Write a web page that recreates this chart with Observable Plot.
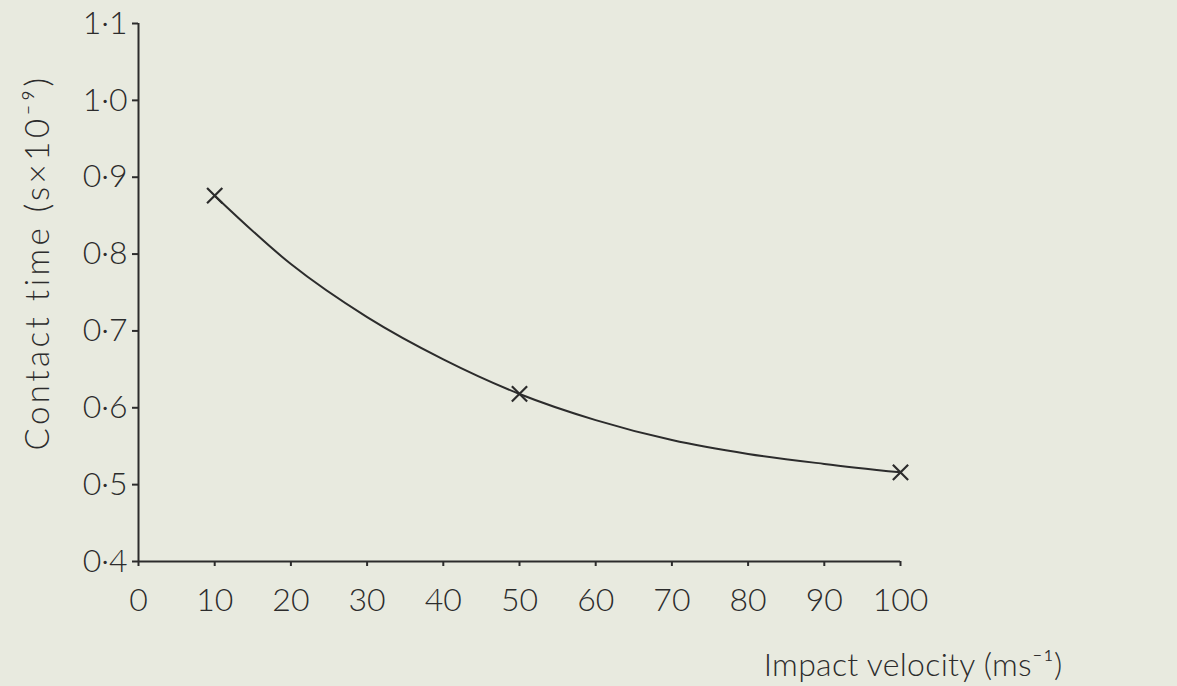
<!DOCTYPE html>
<html>
<head>
<meta charset="utf-8">
<script src="https://cdn.jsdelivr.net/npm/d3@7"></script>
<script src="https://cdn.jsdelivr.net/npm/@observablehq/plot@0.6"></script>
<style>
  html, body { margin: 0; padding: 0; background: #e8eadf; }
  #chart { width: 1177px; height: 686px; }
</style>
</head>
<body>
<div id="chart"></div>
<script>
// Measured points (crosses)
const pointVelocity = [10, 50, 100];
const pointTime = [0.876, 0.618, 0.516];

// Fitted smooth curve
const curveVelocity = [10, 20, 30, 40, 50, 60, 70, 80, 90, 100];
const curveTime = [0.876, 0.787, 0.718, 0.663, 0.618, 0.584, 0.558, 0.540, 0.527, 0.516];

// Axis ticks
const xTicks = [0, 10, 20, 30, 40, 50, 60, 70, 80, 90, 100];
const yTicks = [0.4, 0.5, 0.6, 0.7, 0.8, 0.9, 1.0, 1.1];

const xLabel = "Impact velocity (ms\u207B\u00B9)";
const yLabel = "Contact time (s\u00D710\u207B\u2079)";

const points = pointVelocity.map((v, i) => ({v, t: pointTime[i]}));
const curve = curveVelocity.map((v, i) => ({v, t: curveTime[i]}));

const ink = "#2c2c2c";

const chart = Plot.plot({
  width: 1177,
  height: 686,
  marginLeft: 138,
  marginRight: 277,
  marginTop: 23,
  marginBottom: 125,
  style: {background: "#e8eadf", fontFamily: "Lato, 'DejaVu Sans', sans-serif", fontSize: "32px", fontWeight: 300, color: ink},
  x: {domain: [0, 100]},
  y: {domain: [0.4, 1.1]},
  marks: [
    Plot.axisX({ticks: xTicks, tickSize: 5, tickPadding: 22, tickFormat: d => String(d), label: null, stroke: ink, strokeWidth: 2, fill: ink}),
    Plot.axisY({ticks: yTicks, tickSize: 6, tickPadding: 5, tickFormat: d => d.toFixed(1).replace(".", "\u00B7"),
      label: null, stroke: ink, strokeWidth: 2, fill: ink}),
    Plot.ruleX([0], {y1: 0.4, y2: 1.1, stroke: ink, strokeWidth: 2}),
    Plot.ruleY([0.4], {x1: 0, x2: 100, stroke: ink, strokeWidth: 2}),
    Plot.line(curve, {x: "v", y: "t", curve: "monotone-x", stroke: ink, strokeWidth: 2}),
    Plot.dot(points, {x: "v", y: "t", symbol: "times", r: 7, stroke: ink, strokeWidth: 2.2}),
    Plot.text([yLabel], {frameAnchor: "left", rotate: -90, textAnchor: "middle", lineAnchor: "middle", dx: -100, dy: -30,
      fill: ink, fontSize: 33}),
    Plot.text([xLabel], {frameAnchor: "bottom-right", textAnchor: "end", lineAnchor: "middle", dx: 162, dy: 104, fill: ink, fontSize: 32})
  ]
});
chart.querySelectorAll("text").forEach(t => {
  if (t.textContent === yLabel) t.setAttribute("letter-spacing", "3.5px");
  if (t.textContent === xLabel) t.setAttribute("letter-spacing", "0.3px");
});
document.getElementById("chart").append(chart);
</script>
</body>
</html>
